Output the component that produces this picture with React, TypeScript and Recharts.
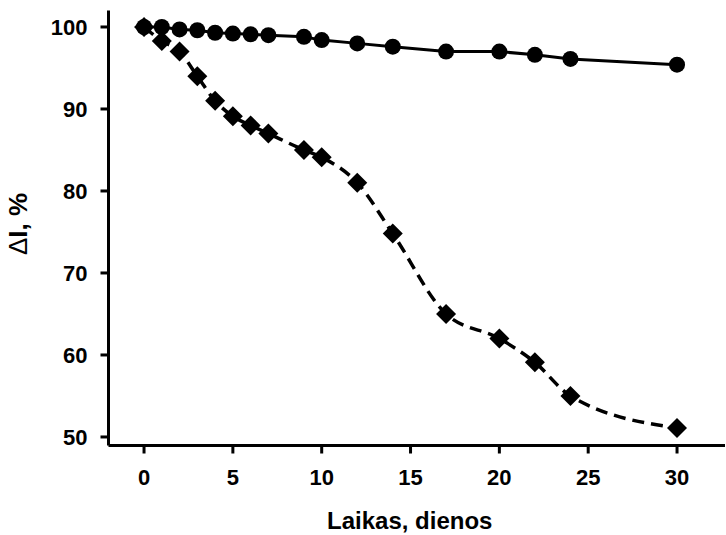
import React from "react";
import { LineChart, Line, XAxis, YAxis } from "recharts";

// days of storage
const days = [0, 1, 2, 3, 4, 5, 6, 7, 9, 10, 12, 14, 17, 20, 22, 24, 30];
// intensity retained, % (circles, solid line)
const seriesA = [100, 100, 99.7, 99.6, 99.3, 99.2, 99.1, 99.0, 98.8, 98.4, 98.0, 97.6, 97.0, 97.0, 96.6, 96.1, 95.4];
// intensity retained, % (diamonds, dashed line)
const seriesB = [100, 98.3, 97.0, 94.0, 91.0, 89.1, 88.0, 87.0, 85.0, 84.1, 81.0, 74.8, 65.0, 62.0, 59.1, 55.0, 51.1];

const xTicks = [0, 5, 10, 15, 20, 25, 30];
const yTicks = [50, 60, 70, 80, 90, 100];

const data = days.map((d, i) => ({ day: d, a: seriesA[i], b: seriesB[i] }));

const FONT = "'Liberation Sans', Arial, sans-serif";
const tickStyle = { fontSize: 22, fontWeight: 700, fill: "#000", fontFamily: FONT };

function Diamond(props: any) {
  const { cx, cy, index } = props;
  if (cx == null || cy == null) return null;
  const s = 10;
  return (
    <polygon
      key={`d-${index}`}
      points={`${cx},${cy - s} ${cx + s},${cy} ${cx},${cy + s} ${cx - s},${cy}`}
      fill="#000"
    />
  );
}

function YLabel(props: any) {
  const vb = props.viewBox || { x: 0, y: 0, width: 0, height: 0 };
  const cx = vb.x + 18;
  const cy = vb.y + vb.height / 2 - 4;
  return (
    <text
      x={cx}
      y={cy}
      transform={`rotate(-90, ${cx}, ${cy})`}
      textAnchor="middle"
      dominantBaseline="central"
      style={{ fontSize: 26, fontWeight: 700, fill: "#000", fontFamily: FONT }}
    >
      <tspan fontWeight={400}>Δ</tspan>I, %
    </text>
  );
}

function XLabel(props: any) {
  const vb = props.viewBox || { x: 0, y: 0, width: 0, height: 0 };
  const cx = vb.x + vb.width / 2 - 7;
  return (
    <text
      x={cx}
      y={529}
      textAnchor="middle"
      style={{ fontSize: 24, fontWeight: 700, fill: "#000", fontFamily: FONT }}
    >
      Laikas, dienos
    </text>
  );
}

export default function App() {
  return (
    <div style={{ position: "absolute", left: 0, top: 0, background: "#fff" }}>
      <LineChart
        width={726}
        height={535}
        data={data}
        margin={{ top: 10.5, right: 1, bottom: 0, left: 0 }}
      >
        <XAxis
          dataKey="day"
          type="number"
          domain={[-2, 32.7]}
          ticks={xTicks}
          allowDataOverflow
          height={89.5}
          axisLine={{ stroke: "#000", strokeWidth: 3 }}
          tickLine={{ stroke: "#000", strokeWidth: 3 }}
          tickSize={8}
          tickMargin={16}
          tick={tickStyle}
          label={<XLabel />}
        />
        <XAxis
          xAxisId="top"
          dataKey="day"
          type="number"
          orientation="top"
          domain={[-2, 32.7]}
          height={0}
          tick={false}
          tickLine={false}
          axisLine={{ stroke: "#000", strokeWidth: 3 }}
        />
        <YAxis
          type="number"
          domain={[48.96, 102.01]}
          ticks={yTicks}
          allowDataOverflow
          width={108.5}
          axisLine={{ stroke: "#000", strokeWidth: 3 }}
          tickLine={{ stroke: "#000", strokeWidth: 3 }}
          tickSize={8}
          tickMargin={13}
          tick={tickStyle}
          label={<YLabel />}
        />
        <Line
          type="linear"
          dataKey="a"
          stroke="#000"
          strokeWidth={3}
          dot={{ r: 8, fill: "#000", stroke: "none" }}
          isAnimationActive={false}
        />
        <Line
          type="monotone"
          dataKey="b"
          stroke="#000"
          strokeWidth={3.5}
          strokeDasharray="12 7"
          dot={Diamond}
          isAnimationActive={false}
        />
      </LineChart>
    </div>
  );
}
